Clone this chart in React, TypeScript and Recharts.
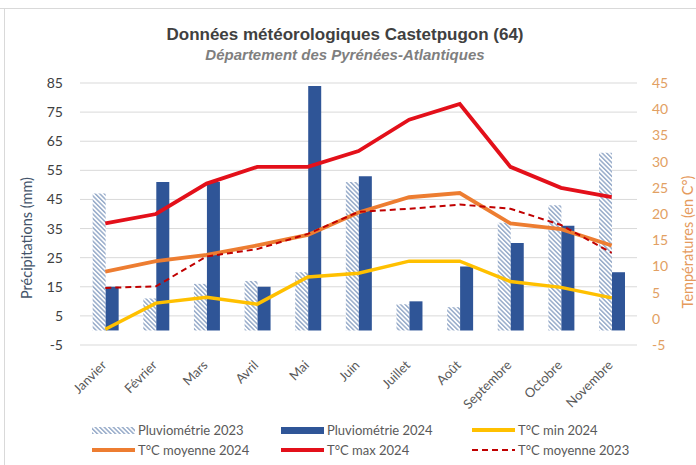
import { ComposedChart, Bar, Line, XAxis, YAxis, CartesianGrid, Legend } from 'recharts';

const months = ['Janvier', 'Février', 'Mars', 'Avril', 'Mai', 'Juin', 'Juillet', 'Août', 'Septembre', 'Octobre', 'Novembre'];
const pluvio2023 = [47, 11, 16, 17, 20, 51, 9, 8, 37, 43, 61];
const pluvio2024 = [15, 51, 51, 15, 84, 53, 10, 22, 30, 36, 20];
const tMin2024 = [-2, 3, 4.1, 2.8, 8, 8.7, 11, 11, 7.1, 6, 4];
const tMoy2024 = [9, 11, 12.2, 14, 16, 20.3, 23.2, 24, 18.2, 17.1, 14];
const tMax2024 = [18.2, 20, 25.8, 29, 29, 32, 38, 41, 29, 25, 23.2];
const tMoy2023 = [5.9, 6.2, 11.9, 13.3, 16.2, 20.4, 21, 21.8, 21, 17.9, 12.6];

const precipTicks = [-5, 5, 15, 25, 35, 45, 55, 65, 75, 85];
const tempTicks = [-5, 0, 5, 10, 15, 20, 25, 30, 35, 40, 45];

const data = months.map((m, i) => ({
    month: m,
    p2023: pluvio2023[i],
    p2024: pluvio2024[i],
    tmin: tMin2024[i],
    tmoy: tMoy2024[i],
    tmax: tMax2024[i],
    tmoy23: tMoy2023[i],
}));

const BLUE = '#2F5597';
const HATCH = '#98ACCA';
const YELLOW = '#FFC000';
const ORANGE = '#ED7D31';
const RED = '#E3101A';
const DARK_RED = '#C00000';
const FONT = 'Lato, "Noto Sans", sans-serif';

// eslint-disable-next-line @typescript-eslint/no-explicit-any
const MonthTick = ({ x, y, payload }: any) => (
    <g transform={`translate(${x + 2},${y + 13})`}>
        <text textAnchor="end" transform="rotate(-45)" fill="#595959" fontSize={13} fontFamily={FONT}>
            {payload.value}
        </text>
    </g>
);

const Swatch = ({ kind, color }: { kind: string; color: string }) => (
    <svg width={43} height={10} style={{ display: 'block' }}>
        {kind === 'hatch' && <rect x={0} y={2} width={43} height={7} fill="url(#hatch23)" />}
        {kind === 'bar' && <rect x={0} y={2} width={43} height={7} fill={color} />}
        {kind === 'line' && <line x1={0} y1={5} x2={43} y2={5} stroke={color} strokeWidth={4} />}
        {kind === 'dash' && (
            <line x1={0} y1={5} x2={43} y2={5} stroke={color} strokeWidth={2} strokeDasharray="6 4" />
        )}
    </svg>
);

const legendItems = [
    { label: 'Pluviométrie 2023', kind: 'hatch', color: HATCH },
    { label: 'Pluviométrie 2024', kind: 'bar', color: BLUE },
    { label: 'T°C min 2024', kind: 'line', color: YELLOW },
    { label: 'T°C moyenne 2024', kind: 'line', color: ORANGE },
    { label: 'T°C max 2024', kind: 'line', color: RED },
    { label: 'T°C moyenne 2023', kind: 'dash', color: DARK_RED },
];
const legendCols = [92, 281, 472];

const LegendBox = () => (
    <div style={{ position: 'relative', width: 696, height: 40 }}>
        {legendItems.map((it, i) => (
            <div
                key={it.label}
                style={{
                    position: 'absolute',
                    left: legendCols[i % 3],
                    top: 5 + Math.floor(i / 3) * 20,
                    height: 20,
                    display: 'flex',
                    alignItems: 'center',
                    gap: 3,
                    fontFamily: FONT,
                    fontSize: 13,
                    color: '#595959',
                    whiteSpace: 'nowrap',
                }}
            >
                <Swatch kind={it.kind} color={it.color} />
                <span>{it.label}</span>
            </div>
        ))}
    </div>
);

export default function App() {
    return (
        <div style={{ position: 'absolute', left: 0, top: 0, width: 696, height: 465, background: '#fff', overflow: 'hidden' }}>
            <div style={{ position: 'absolute', left: 0, top: 8, width: 696, borderTop: '1px solid #D9D9D9' }} />
            <div style={{ position: 'absolute', left: 4, top: 8, height: 457, borderLeft: '1px solid #D9D9D9' }} />

            <ComposedChart
                width={696}
                height={465}
                data={data}
                margin={{ top: 83, right: 0, bottom: 10, left: 0 }}
                barCategoryGap="25%"
                barGap={0}
            >
                <defs>
                    <pattern id="hatch23" patternUnits="userSpaceOnUse" width={3.2} height={3.2} patternTransform="rotate(-45)">
                        <rect x={0} y={0} width={3.2} height={3.2} fill="#fff" />
                        <rect x={0} y={0} width={1.5} height={3.2} fill={HATCH} />
                    </pattern>
                </defs>
                <CartesianGrid yAxisId="p" vertical={false} stroke="#D9D9D9" />
                <XAxis
                    dataKey="month"
                    axisLine={false}
                    tickLine={false}
                    interval={0}
                    height={70}
                    tick={<MonthTick />}
                />
                <YAxis
                    yAxisId="p"
                    domain={[-5, 85]}
                    ticks={precipTicks}
                    width={80}
                    axisLine={false}
                    tickLine={false}
                    tickMargin={11}
                    tick={{ fill: '#404040', fontSize: 14, fontFamily: FONT }}
                />
                <YAxis
                    yAxisId="t"
                    orientation="right"
                    domain={[-5, 45]}
                    ticks={tempTicks}
                    width={59}
                    axisLine={false}
                    tickLine={false}
                    tickMargin={9}
                    tick={{ fill: '#E2A062', fontSize: 14, fontFamily: FONT }}
                />
                <Legend verticalAlign="bottom" content={<LegendBox />} wrapperStyle={{ left: 0, width: 696 }} />

                <Bar yAxisId="p" dataKey="p2023" name="Pluviométrie 2023" fill="url(#hatch23)" isAnimationActive={false} />
                <Bar yAxisId="p" dataKey="p2024" name="Pluviométrie 2024" fill={BLUE} isAnimationActive={false} />
                <Line yAxisId="t" type="linear" dataKey="tmin" name="T°C min 2024" stroke={YELLOW} strokeWidth={3.5} dot={false} isAnimationActive={false} />
                <Line yAxisId="t" type="linear" dataKey="tmoy" name="T°C moyenne 2024" stroke={ORANGE} strokeWidth={3.8} dot={false} isAnimationActive={false} />
                <Line yAxisId="t" type="linear" dataKey="tmax" name="T°C max 2024" stroke={RED} strokeWidth={3.8} dot={false} isAnimationActive={false} />
                <Line yAxisId="t" type="linear" dataKey="tmoy23" name="T°C moyenne 2023" stroke={DARK_RED} strokeWidth={2} strokeDasharray="6 4" dot={false} isAnimationActive={false} />
            </ComposedChart>

            <div style={{ position: 'absolute', left: 0, top: 24, width: 690, textAlign: 'center', fontFamily: '"Liberation Sans", Arial, sans-serif', fontWeight: 'bold', fontSize: 17, lineHeight: '22px', color: '#404040' }}>
                Données météorologiques Castetpugon (64)
            </div>
            <div style={{ position: 'absolute', left: 0, top: 45, width: 690, textAlign: 'center', fontFamily: '"Liberation Sans", Arial, sans-serif', fontWeight: 'bold', fontStyle: 'italic', fontSize: 15, lineHeight: '20px', color: '#7F7F7F' }}>
                Département des Pyrénées-Atlantiques
            </div>
            <div style={{ position: 'absolute', left: 26, top: 238, transform: 'translate(-50%, -50%) rotate(-90deg)', whiteSpace: 'nowrap', fontFamily: FONT, fontSize: 14.5, color: '#44546A' }}>
                Précipitations (mm)
            </div>
            <div style={{ position: 'absolute', left: 687, top: 242, transform: 'translate(-50%, -50%) rotate(-90deg)', whiteSpace: 'nowrap', fontFamily: FONT, fontSize: 14.5, color: '#E59A5C' }}>
                Températures (en C°)
            </div>
        </div>
    );
}
